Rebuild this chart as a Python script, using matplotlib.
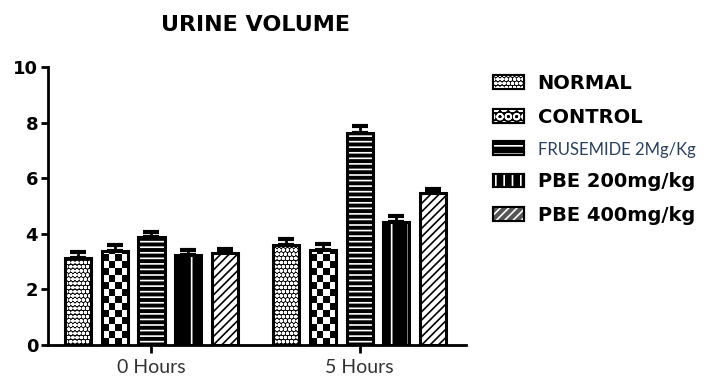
import numpy as np
import matplotlib.pyplot as plt
from matplotlib.patches import Patch
from matplotlib.legend_handler import HandlerTuple

groups = ["0 Hours", "5 Hours"]
series = ["NORMAL", "CONTROL", "FRUSEMIDE 2Mg/Kg", "PBE 200mg/kg", "PBE 400mg/kg"]

normal = [3.14, 3.60]
normal_sem = [0.20, 0.21]
control = [3.39, 3.42]
control_sem = [0.19, 0.21]
frusemide = [3.90, 7.64]
frusemide_sem = [0.17, 0.22]
pbe200 = [3.24, 4.43]
pbe200_sem = [0.18, 0.20]
pbe400 = [3.30, 5.47]
pbe400_sem = [0.16, 0.14]

means = [normal, control, frusemide, pbe200, pbe400]
sems = [normal_sem, control_sem, frusemide_sem, pbe200_sem, pbe400_sem]

# fill colour, hatch, hatch colour (None = checkerboard image)
styles = [
    ("black", "oooo", "white"),
    ("white", None, "black"),
    ("black", "---", "white"),
    ("black", "|", "white"),
    ("white", "////", "black"),
]
# legend swatches use coarser patterns
legend_styles = [
    ("black", "oooo", "white"),
    ("black", "OO", "white"),
    ("black", "--", "white"),
    ("black", "||", "white"),
    ("#555555", "////", "white"),
]

bold_font = ["DejaVu Sans"]
plain_font = ["Lato", "DejaVu Sans"]

plt.rcParams["hatch.linewidth"] = 1.2

fig = plt.figure(figsize=(7.25, 3.8), dpi=100)
ax = fig.add_axes([0.066, 0.092, 0.577, 0.732])

x = np.arange(len(groups))
pitch = 0.177
width = 0.125

for i, (vals, err, (face, hatch, hcol)) in enumerate(zip(means, sems, styles)):
    pos = x + (i - 2) * pitch
    base = ax.bar(pos, vals, width, color=face, linewidth=0, zorder=2)
    if hatch is None:
        # checkerboard fill
        for rect, h in zip(base, vals):
            nrow = int(np.ceil(h / 0.25))
            board = np.indices((nrow, 4)).sum(axis=0) % 2
            img = ax.imshow(board, cmap="gray", interpolation="nearest",
                            extent=(rect.get_x(), rect.get_x() + width, 0, nrow * 0.25),
                            origin="lower", aspect="auto", zorder=2.1)
            img.set_clip_path(rect)
    else:
        ax.bar(pos, vals, width, facecolor="none", edgecolor=hcol, hatch=hatch,
               linewidth=0, zorder=2.1)
    ax.bar(pos, vals, width, facecolor="none", edgecolor="black", linewidth=2.2, zorder=2.2)
    ax.errorbar(pos, vals, yerr=[np.zeros(len(vals)), err], fmt="none",
                ecolor="black", elinewidth=2, capsize=5.5, capthick=3, zorder=1.5)

ax.set_xlim(-0.498, 0.512 + 1)
ax.set_ylim(0, 10)
ax.set_yticks(np.arange(0, 11, 2))
ax.set_xticks(x)
ax.set_xticklabels(groups, family=plain_font, fontsize=14, color="#333333")
for lab in ax.get_yticklabels():
    lab.set_fontweight("bold")
    lab.set_family(bold_font)
    lab.set_fontsize(13)
ax.tick_params(axis="both", width=2, length=5, direction="out")
ax.tick_params(axis="y", pad=2)
ax.tick_params(axis="x", length=6, pad=4)
for side in ["top", "right"]:
    ax.spines[side].set_visible(False)
for side in ["left", "bottom"]:
    ax.spines[side].set_linewidth(2)

fig.text(0.352, 0.935, "URINE VOLUME", ha="center", va="center",
         fontsize=16, fontweight="bold", family=bold_font)

# legend handles: base fill with the pattern laid over it
handles = []
for face, hatch, hcol in legend_styles:
    handles.append((Patch(facecolor=face, edgecolor="black", linewidth=1.5),
                    Patch(facecolor="none", edgecolor=hcol, hatch=hatch, linewidth=0),
                    Patch(facecolor="none", edgecolor="black", linewidth=1.5)))

leg = fig.legend(handles, series, loc="upper left", frameon=False,
                 bbox_to_anchor=(493 / 725, 1 - 74 / 380),
                 handler_map={tuple: HandlerTuple(ndivide=1, pad=0)},
                 fontsize=14, handlelength=1.6, handleheight=0.7,
                 handletextpad=0.7, labelspacing=0.75, borderpad=0, borderaxespad=0)
for t, name in zip(leg.get_texts(), series):
    if name.startswith("FRUSEMIDE"):
        t.set_family(plain_font)
        t.set_fontsize(12)
        t.set_color("#2a4060")
    else:
        t.set_family(bold_font)
        t.set_fontweight("bold")

fig.savefig("out.png", dpi=100)
